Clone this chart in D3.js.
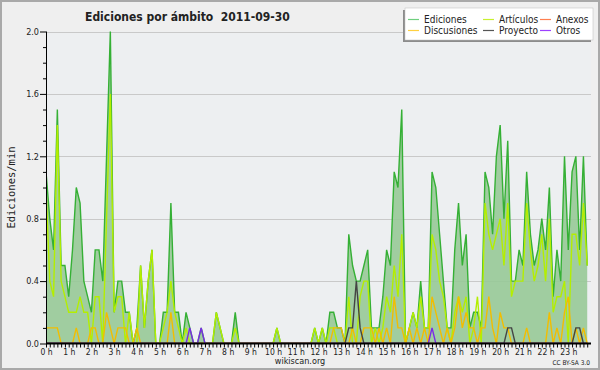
<!DOCTYPE html>
<html>
<head>
<meta charset="utf-8">
<script src="https://cdn.jsdelivr.net/npm/d3@7"></script>
<style>
  html, body { margin: 0; padding: 0; background: #efefef; }
  svg { display: block; }
  text { font-family: "DejaVu Sans Condensed", "DejaVu Sans", sans-serif; font-stretch: condensed; fill: #222; }
</style>
</head>
<body>
<svg id="chart" width="600" height="370"></svg>
<script>
// ── Data: edits per minute, one value per 10-minute slot (6 per hour) ─────────
const hours = d3.range(24);   // 0 h … 23 h
const yTicks = [0, 0.4, 0.8, 1.2, 1.6, 2.0];

const ediciones = [
  1.1, 0.8, 0.6, 1.5, 0.5, 0.5,   0.3, 0.6, 1.0, 0.9, 0.4, 0.3,
  0.2, 0.6, 0.6, 0.4, 1.2, 2.0,   0.2, 0.4, 0.4, 0.2, 0.2, 0.0,
  0.1, 0.5, 0.1, 0.4, 0.6, 0.0,   0.0, 0.2, 0.2, 0.9, 0.2, 0.2,
  0.0, 0.2, 0.1, 0.0, 0.0, 0.1,   0.0, 0.0, 0.0, 0.2, 0.1, 0.0,
  0.0, 0.0, 0.2, 0.0, 0.0, 0.0,   0.0, 0.0, 0.0, 0.0, 0.0, 0.0,
  0.0, 0.1, 0.0, 0.0, 0.0, 0.0,   0.0, 0.0, 0.0, 0.0, 0.0, 0.1,
  0.0, 0.1, 0.0, 0.2, 0.2, 0.1,   0.1, 0.0, 0.7, 0.5, 0.4, 0.4,
  0.5, 0.6, 0.1, 0.1, 0.1, 0.3,   0.6, 0.5, 1.1, 1.0, 1.5, 0.0,
  0.1, 0.2, 0.1, 0.4, 0.1, 0.1,   1.1, 1.0, 0.7, 0.4, 0.1, 0.1,
  0.6, 0.9, 0.5, 0.7, 0.1, 0.2,   0.2, 0.1, 1.1, 1.0, 0.7, 1.2,
  1.4, 0.8, 1.3, 0.4, 0.4, 0.6,   0.5, 1.1, 0.7, 0.5, 0.6, 0.8,
  0.6, 1.0, 0.3, 0.6, 0.4, 1.2,   0.6, 1.1, 1.2, 0.6, 1.2, 0.5
];

const articulos = [
  1.0, 0.4, 0.3, 1.4, 0.4, 0.3,   0.2, 0.2, 0.2, 0.3, 0.2, 0.2,
  0.0, 0.3, 0.3, 0.0, 0.8, 1.6,   0.2, 0.3, 0.3, 0.0, 0.2, 0.0,
  0.0, 0.5, 0.1, 0.4, 0.6, 0.0,   0.0, 0.1, 0.2, 0.4, 0.2, 0.1,
  0.0, 0.1, 0.0, 0.0, 0.0, 0.0,   0.0, 0.0, 0.0, 0.2, 0.1, 0.0,
  0.0, 0.0, 0.1, 0.0, 0.0, 0.0,   0.0, 0.0, 0.0, 0.0, 0.0, 0.0,
  0.0, 0.1, 0.0, 0.0, 0.0, 0.0,   0.0, 0.0, 0.0, 0.0, 0.0, 0.1,
  0.0, 0.1, 0.0, 0.1, 0.1, 0.0,   0.0, 0.0, 0.3, 0.0, 0.0, 0.3,
  0.4, 0.4, 0.0, 0.1, 0.0, 0.1,   0.3, 0.2, 0.5, 0.3, 0.7, 0.0,
  0.1, 0.2, 0.1, 0.3, 0.1, 0.1,   0.7, 0.6, 0.4, 0.3, 0.1, 0.0,
  0.2, 0.3, 0.2, 0.3, 0.0, 0.1,   0.3, 0.0, 0.9, 0.7, 0.6, 0.7,
  0.8, 0.5, 0.9, 0.3, 0.4, 0.4,   0.4, 0.9, 0.6, 0.4, 0.5, 0.7,
  0.4, 0.8, 0.2, 0.3, 0.3, 0.4,   0.0, 0.7, 0.7, 0.5, 0.9, 0.5
];

const anexos = [
  0, 0, 0, 0, 0, 0,   0, 0, 0, 0, 0, 0,   0, 0, 0, 0, 0, 0,   0, 0, 0, 0, 0, 0,
  0, 0, 0, 0, 0, 0,   0, 0, 0, 0, 0, 0,   0, 0, 0, 0, 0, 0,   0, 0, 0, 0, 0, 0,
  0, 0, 0, 0, 0, 0,   0, 0, 0, 0, 0, 0,   0, 0, 0, 0, 0, 0,   0, 0, 0, 0, 0, 0,
  0, 0, 0, 0, 0, 0,   0, 0, 0, 0, 0, 0,   0, 0, 0, 0, 0, 0,   0, 0, 0, 0, 0, 0,
  0, 0, 0, 0, 0, 0,   0, 0, 0, 0, 0, 0,   0, 0, 0, 0, 0, 0,   0, 0, 0, 0, 0, 0,
  0, 0, 0, 0, 0, 0,   0, 0, 0, 0, 0, 0,   0, 0, 0, 0, 0, 0,   0, 0, 0, 0, 0, 0
];

const discusiones = [
  0.1, 0.1, 0.1, 0.1, 0.0, 0.0,   0.0, 0.0, 0.1, 0.0, 0.0, 0.0,
  0.1, 0.1, 0.0, 0.0, 0.2, 0.1,   0.0, 0.1, 0.1, 0.1, 0.0, 0.0,
  0.1, 0.0, 0.0, 0.0, 0.0, 0.0,   0.0, 0.0, 0.0, 0.2, 0.0, 0.0,
  0.0, 0.0, 0.0, 0.0, 0.0, 0.0,   0.0, 0.0, 0.0, 0.0, 0.0, 0.0,
  0.0, 0.0, 0.0, 0.0, 0.0, 0.0,   0.0, 0.0, 0.0, 0.0, 0.0, 0.0,
  0.0, 0.0, 0.0, 0.0, 0.0, 0.0,   0.0, 0.0, 0.0, 0.0, 0.0, 0.0,
  0.0, 0.0, 0.0, 0.0, 0.1, 0.1,   0.1, 0.0, 0.0, 0.1, 0.0, 0.0,
  0.1, 0.1, 0.1, 0.0, 0.1, 0.0,   0.1, 0.0, 0.3, 0.1, 0.1, 0.0,
  0.1, 0.0, 0.1, 0.0, 0.1, 0.0,   0.3, 0.2, 0.1, 0.0, 0.1, 0.0,
  0.1, 0.3, 0.1, 0.2, 0.1, 0.1,   0.0, 0.1, 0.1, 0.3, 0.1, 0.0,
  0.2, 0.1, 0.1, 0.0, 0.0, 0.0,   0.0, 0.1, 0.0, 0.0, 0.0, 0.0,
  0.0, 0.2, 0.0, 0.1, 0.0, 0.2,   0.3, 0.0, 0.1, 0.0, 0.1, 0.0
];

const proyecto = [
  0, 0, 0, 0, 0, 0,   0, 0, 0, 0, 0, 0,   0, 0, 0, 0, 0, 0,   0, 0, 0, 0, 0, 0,
  0, 0, 0, 0, 0, 0,   0, 0, 0, 0, 0, 0,   0, 0, 0, 0, 0, 0,   0, 0, 0, 0, 0, 0,
  0, 0, 0, 0, 0, 0,   0, 0, 0, 0, 0, 0,   0, 0, 0, 0, 0, 0,   0, 0, 0, 0, 0, 0,
  0, 0, 0, 0, 0, 0,   0, 0, 0.1, 0.1, 0.4, 0.1,   0, 0, 0, 0, 0, 0,   0, 0, 0, 0, 0, 0,
  0, 0, 0, 0, 0, 0,   0, 0, 0, 0, 0, 0,   0, 0, 0, 0, 0, 0,   0, 0, 0, 0, 0, 0,
  0, 0, 0.1, 0.1, 0, 0,   0, 0, 0, 0, 0, 0,   0, 0, 0, 0, 0, 0,   0, 0, 0.1, 0.1, 0, 0
];

const otros = [
  0, 0, 0, 0, 0, 0,   0, 0, 0, 0, 0, 0,   0, 0, 0, 0, 0, 0,   0, 0, 0, 0, 0, 0,
  0, 0, 0, 0, 0, 0,   0, 0, 0, 0, 0, 0,   0, 0, 0.1, 0, 0, 0.1,   0, 0, 0, 0, 0, 0,
  0, 0, 0, 0, 0, 0,   0, 0, 0, 0, 0, 0,   0, 0, 0, 0, 0, 0,   0, 0, 0, 0, 0, 0,
  0, 0, 0, 0, 0, 0,   0, 0, 0, 0, 0, 0,   0, 0, 0, 0, 0, 0,   0, 0, 0, 0, 0, 0,
  0, 0, 0, 0, 0, 0,   0.1, 0, 0, 0, 0, 0,   0, 0, 0, 0, 0, 0,   0, 0, 0, 0, 0, 0,
  0, 0, 0, 0, 0, 0,   0, 0, 0, 0, 0, 0,   0, 0, 0, 0, 0, 0,   0, 0, 0, 0, 0, 0
];

// ── Series (legend order: column-wise, two rows) ──────────────────────────────
const seriesNames  = ['Ediciones', 'Discusiones', 'Artículos', 'Proyecto', 'Anexos', 'Otros'];
const seriesValues = [ediciones, discusiones, articulos, proyecto, anexos, otros];

const LINE_COLOR   = {
  Ediciones: '#35b035', Artículos: '#b4ee00', Anexos: '#ff7733',
  Discusiones: '#f2bd00', Proyecto: '#444444', Otros: '#7a2ae6'
};
const LEGEND_COLOR = {
  Ediciones: '#6fcf7f', Artículos: '#c8f030', Anexos: '#ff7f50',
  Discusiones: '#ffd040', Proyecto: '#555555', Otros: '#9d40ff'
};

// ── Layout ────────────────────────────────────────────────────────────────────
const W = 600, H = 370;
const PLOT = { left: 46, right: 591, top: 31.5, bottom: 343.5 };

const svg = d3.select('#chart');

// outer frame
svg.append('rect')
  .attr('x', 1).attr('y', 1).attr('width', W - 2).attr('height', H - 2)
  .attr('fill', '#efefef').attr('stroke', '#a9a9a9').attr('stroke-width', 2);

const x = d3.scaleLinear().domain([0, 144]).range([PLOT.left, PLOT.right]);
const y = d3.scaleLinear().domain([0, 2]).range([PLOT.bottom, PLOT.top]);

// plot background
svg.append('rect')
  .attr('x', PLOT.left).attr('y', PLOT.top)
  .attr('width', PLOT.right - PLOT.left).attr('height', PLOT.bottom - PLOT.top)
  .attr('fill', '#edeff1');

// clip: keep zero-valued stretches hidden under the x axis
svg.append('clipPath').attr('id', 'plot-clip')
  .append('rect')
  .attr('x', PLOT.left).attr('y', 0)
  .attr('width', PLOT.right - PLOT.left).attr('height', PLOT.bottom - 0.6);

// grid
svg.append('g')
  .selectAll('line')
  .data(yTicks.filter(t => t > 0))
  .join('line')
  .attr('x1', PLOT.left).attr('x2', PLOT.right)
  .attr('y1', d => Math.round(y(d)) + 0.5).attr('y2', d => Math.round(y(d)) + 0.5)
  .attr('stroke', '#c9c9c9').attr('stroke-width', 1);

// ── Marks ─────────────────────────────────────────────────────────────────────
const area = d3.area()
  .x((d, i) => x(i))
  .y0(y(0))
  .y1(d => y(d));

const line = d3.line()
  .x((d, i) => x(i))
  .y(d => y(d));

const marks = svg.append('g').attr('clip-path', 'url(#plot-clip)');

marks.append('path')
  .datum(ediciones)
  .attr('d', area)
  .attr('fill', '#97c997')
  .attr('fill-opacity', 0.9);

const drawOrder = ['Ediciones', 'Artículos', 'Anexos', 'Discusiones', 'Proyecto', 'Otros'];
drawOrder.forEach(name => {
  const vals = seriesValues[seriesNames.indexOf(name)];
  marks.append('path')
    .datum(vals)
    .attr('d', line)
    .attr('fill', 'none')
    .attr('stroke', LINE_COLOR[name])
    .attr('stroke-width', 1.4)
    .attr('stroke-linejoin', 'miter');
});

// ── Axes ──────────────────────────────────────────────────────────────────────
const yAxis = d3.axisLeft(y)
  .tickValues(d3.range(0, 21).map(v => v / 10))
  .tickSize(3)
  .tickFormat(d => yTicks.some(t => Math.abs(t - d) < 1e-9) ? d3.format('.1f')(d) : '');

const gy = svg.append('g')
  .attr('transform', `translate(${PLOT.left},0)`)
  .call(yAxis);
gy.select('.domain').attr('stroke', '#000').attr('d', `M0.5,${PLOT.top}V${PLOT.bottom}`);
gy.selectAll('.tick line')
  .attr('stroke', '#000')
  .attr('x2', d => yTicks.some(t => Math.abs(t - d) < 1e-9) ? -6 : -3);
gy.selectAll('.tick text')
  .attr('x', -7)
  .style('font-size', '9px')
  .attr('fill', '#444');

const xAxis = d3.axisBottom(x)
  .tickValues(d3.range(0, 144))
  .tickSize(4)
  .tickFormat(d => d % 6 === 0 ? `${d / 6} h` : '');

const gx = svg.append('g')
  .attr('transform', `translate(0,${PLOT.bottom})`)
  .call(xAxis);
gx.select('.domain').attr('stroke', '#000').attr('stroke-width', 2)
  .attr('d', `M${PLOT.left},0H${PLOT.right}`);
gx.selectAll('.tick line').attr('stroke', '#000');
gx.selectAll('.tick text')
  .attr('y', 5)
  .style('font-size', '8.5px')
  .attr('fill', '#333');

// ── Texts ─────────────────────────────────────────────────────────────────────
svg.append('text')
  .attr('x', 85).attr('y', 21)
  .style('font-size', '12px').style('font-weight', 'bold')
  .style('white-space', 'pre')
  .attr('fill', '#111')
  .text('Ediciones por ámbito  2011-09-30');

svg.append('text')
  .attr('transform', `translate(15,${(PLOT.top + PLOT.bottom) / 2}) rotate(-90)`)
  .attr('text-anchor', 'middle')
  .style('font-family', '"DejaVu Sans Mono", monospace')
  .style('font-size', '10.5px')
  .text('Ediciones/min');

svg.append('text')
  .attr('x', 300).attr('y', 364)
  .attr('text-anchor', 'middle')
  .style('font-size', '9px')
  .attr('fill', '#333')
  .text('wikiscan.org');

svg.append('text')
  .attr('x', 590).attr('y', 365)
  .attr('text-anchor', 'end')
  .style('font-size', '6.5px')
  .attr('fill', '#444')
  .text('CC BY-SA 3.0');

// ── Legend ────────────────────────────────────────────────────────────────────
const LEG = { x: 405, y: 8, w: 188, h: 32 };
svg.append('rect')
  .attr('x', LEG.x - 2).attr('y', LEG.y + 2).attr('width', LEG.w).attr('height', LEG.h)
  .attr('fill', '#8c8c8c');
svg.append('rect')
  .attr('x', LEG.x).attr('y', LEG.y).attr('width', LEG.w).attr('height', LEG.h)
  .attr('fill', '#fff').attr('stroke', '#bbb').attr('stroke-width', 0.5);

const colX = [408, 483, 540];
const rowY = [19.5, 30.5];
const leg = svg.append('g')
  .selectAll('g')
  .data(seriesNames)
  .join('g')
  .attr('transform', (d, i) => `translate(${colX[Math.floor(i / 2)]},${rowY[i % 2]})`);
leg.append('line')
  .attr('x1', 0).attr('x2', 11)
  .attr('stroke', d => LEGEND_COLOR[d]).attr('stroke-width', 1.2);
leg.append('text')
  .attr('x', 16).attr('y', 3.5)
  .style('font-size', '10px')
  .attr('fill', '#333')
  .text(d => d);
</script>
</body>
</html>
